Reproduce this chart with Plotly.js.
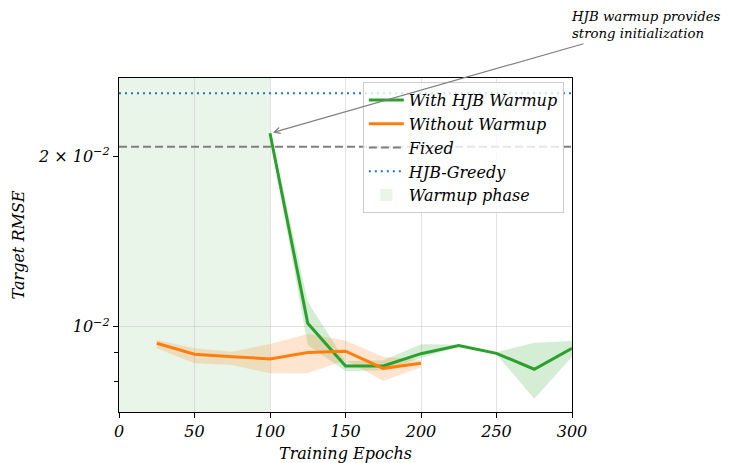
<!DOCTYPE html>
<html>
<head>
<meta charset="utf-8">
<script src="https://cdn.plot.ly/plotly-3.0.1.min.js"></script>
<style>html,body{margin:0;padding:0;background:#fff;}</style>
</head>
<body>
<div id="chart" style="width:729px;height:463px;"></div>
<script>
// ---- data ----
const withEpochs = [100, 125, 150, 175, 200, 225, 250, 275, 300];
const withMean   = [0.02196, 0.01014, 0.00852, 0.00852, 0.00896, 0.00926, 0.00897, 0.00841, 0.00916];
const withLower  = [0.0216, 0.00928, 0.00835, 0.00837, 0.00880, 0.00922, 0.00893, 0.00746, 0.00885];
const withUpper  = [0.0223, 0.01107, 0.00870, 0.00872, 0.00931, 0.00930, 0.00901, 0.00937, 0.00943];

const withoutEpochs = [25, 50, 75, 100, 125, 150, 175, 200];
const withoutMean   = [0.00935, 0.00894, 0.00885, 0.00877, 0.00900, 0.00905, 0.00844, 0.00862];
const withoutLower  = [0.00916, 0.00862, 0.00856, 0.00827, 0.00827, 0.00872, 0.00802, 0.00848];
const withoutUpper  = [0.00947, 0.00916, 0.00903, 0.00932, 0.00971, 0.00945, 0.00885, 0.00873];

const epochRange = [0, 300];
const fixedRMSE = 0.0208;
const greedyRMSE = 0.02585;
const warmupEnd = 100;

const yTickVals = [0.01, 0.02];
const yTickText = ['10<sup>\u22122</sup>', '2 \u00d7 10<sup>\u22122</sup>'];
const yMinorVals = [0.008, 0.009];
const xTickVals = [0, 50, 100, 150, 200, 250, 300];

const annotationText = 'HJB warmup provides<br>strong initialization';

// ---- helpers ----
function band(x, lo, hi) {
  return { x: x.concat(x.slice().reverse()), y: hi.concat(lo.slice().reverse()) };
}
const gBand = band(withEpochs, withLower, withUpper);
const oBand = band(withoutEpochs, withoutLower, withoutUpper);

const FONT = { family: 'DejaVu Serif', style: 'italic', color: '#000' };
const F = (size) => Object.assign({ size: size }, FONT);
const yRange = [Math.log10(0.007067), Math.log10(0.0275)];

const traces = [
  { x: gBand.x, y: gBand.y, type: 'scatter', mode: 'lines', fill: 'toself',
    fillcolor: 'rgba(44,160,44,0.2)', line: { width: 0 }, showlegend: false, hoverinfo: 'skip' },
  { x: oBand.x, y: oBand.y, type: 'scatter', mode: 'lines', fill: 'toself',
    fillcolor: 'rgba(255,127,14,0.2)', line: { width: 0 }, showlegend: false, hoverinfo: 'skip' },
  { x: epochRange, y: [fixedRMSE, fixedRMSE], type: 'scatter', mode: 'lines', name: 'Fixed',
    line: { color: '#7f7f7f', width: 2, dash: '8px,4px' }, legendrank: 3 },
  { x: epochRange, y: [greedyRMSE, greedyRMSE], type: 'scatter', mode: 'lines', name: 'HJB-Greedy',
    line: { color: '#1f77b4', width: 2, dash: '2px,4px' }, legendrank: 4 },
  { x: withEpochs, y: withMean, type: 'scatter', mode: 'lines', name: 'With HJB Warmup',
    line: { color: '#2ca02c', width: 3 }, legendrank: 1 },
  { x: withoutEpochs, y: withoutMean, type: 'scatter', mode: 'lines', name: 'Without Warmup',
    line: { color: '#ff7f0e', width: 3 }, legendrank: 2 },
  // empty trace on the overlay axis so its major gridline renders
  { x: [], y: [], yaxis: 'y2', type: 'scatter', showlegend: false, hoverinfo: 'skip' }
];

const layout = {
  width: 729, height: 463,
  margin: { l: 119, r: 157, t: 78, b: 51 },
  paper_bgcolor: '#fff', plot_bgcolor: 'rgba(0,0,0,0)',
  font: F(16),
  showlegend: true,
  legend: {
    x: 0.982, y: 0.988, xanchor: 'right', yanchor: 'top',
    bgcolor: 'rgba(255,255,255,0.8)', bordercolor: '#cccccc', borderwidth: 1,
    font: F(16), itemwidth: 35, tracegroupgap: 0
  },
  xaxis: {
    range: epochRange, tickvals: xTickVals, ticks: 'outside', ticklen: 5, tickcolor: '#000',
    showline: true, linecolor: '#000', linewidth: 1.2, mirror: true,
    showgrid: true, gridcolor: 'rgba(176,176,176,0.35)', gridwidth: 1, zeroline: false,
    tickfont: F(16),
    title: { text: 'Training Epochs', font: F(16), standoff: 12 }
  },
  yaxis: {
    type: 'log', range: yRange, tickvals: yTickVals, ticktext: yTickText,
    ticks: 'outside', ticklen: 5, tickcolor: '#000',
    minor: { tickvals: yMinorVals, ticks: 'outside', ticklen: 3.5, tickcolor: '#000', showgrid: false },
    showline: true, linecolor: '#000', linewidth: 1.2, mirror: true,
    showgrid: false, zeroline: false,
    tickfont: F(16),
    title: { text: 'Target RMSE', font: F(16), standoff: 9 }
  },
  yaxis2: {
    type: 'log', range: yRange, overlaying: 'y', side: 'left', tickvals: [0.01],
    showticklabels: false, ticks: '', showgrid: true, gridcolor: 'rgba(176,176,176,0.35)',
    showline: false, zeroline: false
  },
  shapes: [
    { type: 'rect', xref: 'x', yref: 'paper', x0: epochRange[0], x1: warmupEnd, y0: 0, y1: 1,
      fillcolor: 'rgba(44,160,44,0.11)', line: { width: 0 }, layer: 'below',
      showlegend: true, name: 'Warmup phase', legendrank: 5 }
  ],
  annotations: [
    { xref: 'x', yref: 'y', x: warmupEnd, y: Math.log10(withMean[0]),
      axref: 'pixel', ayref: 'pixel', ax: 315, ay: -90, text: '',
      showarrow: true, arrowhead: 5, arrowsize: 1, arrowwidth: 1.2, arrowcolor: '#808080', standoff: 3 },
    { xref: 'paper', yref: 'paper', x: 0.993, y: 1.212, xanchor: 'left', yanchor: 'top', align: 'left',
      text: annotationText, showarrow: false, font: F(13.3) }
  ]
};

Plotly.newPlot('chart', traces, layout, { displayModeBar: false, staticPlot: true });
</script>
</body>
</html>
